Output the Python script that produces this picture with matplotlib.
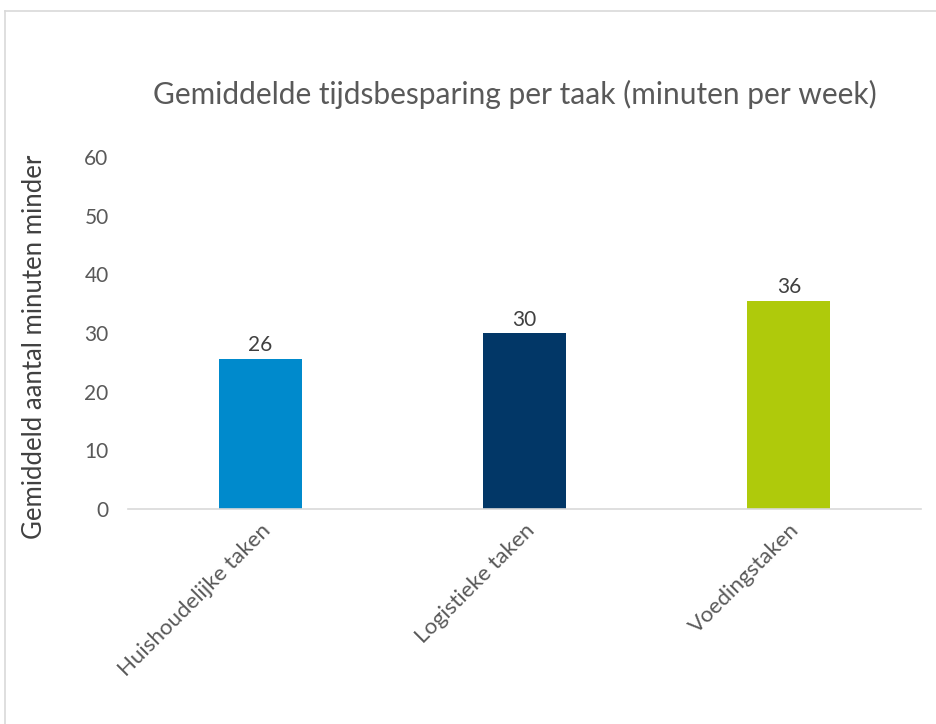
import matplotlib
matplotlib.use('Agg')
import matplotlib.pyplot as plt
from matplotlib.lines import Line2D

plt.rcParams['font.family'] = ['Lato', 'DejaVu Sans']

categories = ['Huishoudelijke taken', 'Logistieke taken', 'Voedingstaken']
values = [25.6, 30.0, 35.5]
labels = ['26', '30', '36']
colors = ['#008ACC', '#023767', '#AFCA0B']
yticks = [0, 10, 20, 30, 40, 50, 60]

fig = plt.figure(figsize=(9.37, 7.24), dpi=100)
ax = fig.add_axes([0.1366, 0.297, 0.8464, 0.486])

x = range(len(categories))
bars = ax.bar(x, values, width=0.314, color=colors, zorder=2)
for b, lab in zip(bars, labels):
    ax.text(b.get_x() + b.get_width() / 2, b.get_height() + 0.6, lab,
            ha='center', va='bottom', fontsize=15, color='#404040')

ax.set_xlim(-0.5, 2.5)
ax.set_ylim(0, 60)
ax.set_yticks(yticks)
ax.set_xticks(list(x))
ax.set_xticklabels(categories, rotation=45, ha='right', rotation_mode='anchor',
                   fontsize=16, color='#595959')
ax.tick_params(axis='y', labelsize=15, labelcolor='#595959', length=0, pad=14)
ax.tick_params(axis='x', length=0, pad=8)

for s in ['top', 'right', 'left']:
    ax.spines[s].set_visible(False)
ax.spines['bottom'].set_color('#D9D9D9')
ax.spines['bottom'].set_linewidth(1.2)

ax.set_ylabel('Gemiddeld aantal minuten minder', fontsize=18.5, color='#404040')
ax.yaxis.set_label_coords(-0.102, 0.46)
fig.text(0.55, 0.87, 'Gemiddelde tijdsbesparing per taak (minuten per week)',
         ha='center', va='center', fontsize=21.5, color='#595959')

# outer chart frame
fig.add_artist(Line2D([5 / 937, 5 / 937], [0, 1 - 11 / 724], color='#D9D9D9', lw=1.2))
fig.add_artist(Line2D([5 / 937, 1], [1 - 11 / 724, 1 - 11 / 724], color='#D9D9D9', lw=1.2))

fig.savefig('out.png', dpi=100)
